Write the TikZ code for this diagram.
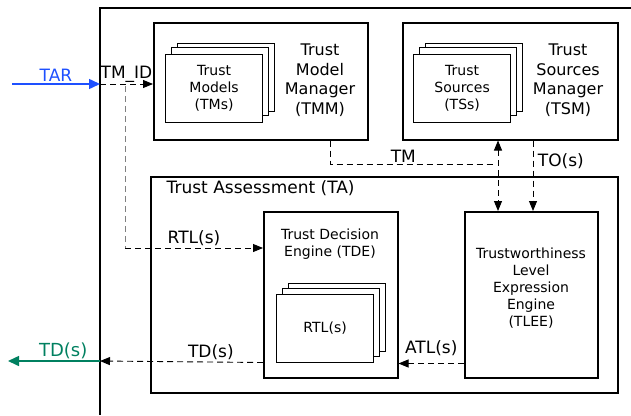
\documentclass[tikz,border=0pt]{standalone}
\usepackage{fontspec}
\setmainfont{DejaVu Sans}
\usetikzlibrary{arrows.meta,calc}
\definecolor{tarblue}{RGB}{30,80,255}
\definecolor{tdgreen}{RGB}{0,128,96}
\tikzset{
  box/.style={draw,line width=1.5pt,fill=white,anchor=north west,inner sep=0pt},
  card/.style={draw,line width=1.2pt,fill=white,anchor=north west,inner sep=0pt,
    minimum width=97pt,minimum height=68pt,align=center,font=\fontsize{14}{17}\selectfont},
  boxtext/.style={align=center,font=\fontsize{16}{19.5}\selectfont},
  lbl/.style={font=\fontsize{17}{20}\selectfont,inner sep=1.5pt},
  flow/.style={dash pattern=on 6pt off 4pt,line width=0.9pt},
  tip/.style={-{Triangle[length=10pt,width=8pt]}},
  twotip/.style={{Triangle[length=10pt,width=8pt]}-{Triangle[length=10pt,width=8pt]}},
  bigtip/.style={-{Triangle[length=11pt,width=10pt]}},
}

\begin{document}
\begin{tikzpicture}[x=1pt,y=-1pt]
\useasboundingbox (0,0) rectangle (631,415);
% system boundary
\draw[line width=2pt] (631,8) -| (100,415);
\coordinate (tarsrc) at (12,84);
\coordinate (tarin) at (100,84);
\coordinate (tdout) at (100,361);
\coordinate (tddst) at (8,361);

% trust model manager
\node[box,minimum width=214pt,minimum height=117pt] (tmm) at (153,22) {};
\foreach \d/\e in {12/11,6/7}
  \node[card] at (165+\d,54-\e) {};
\node[card] (tms) at (165,54) {Trust\\Models\\(TMs)};
\node[boxtext] (tmmname) at (320,80) {Trust\\Model\\Manager\\(TMM)};

% trust sources manager
\node[box,minimum width=215pt,minimum height=117pt] (tsm) at (402,22) {};
\foreach \d/\e in {12/11,6/7}
  \node[card] at (413+\d,54-\e) {};
\node[card] (tss) at (413,54) {Trust\\Sources\\(TSs)};
\node[boxtext] (tsmname) at (568,80) {Trust\\Sources\\Manager\\(TSM)};

% trust assessment
\node[box,minimum width=467pt,minimum height=216pt] (ta) at (150,176) {};
\node[lbl,anchor=west] (taname) at (165,188) {Trust Assessment (TA)};

\node[box,minimum width=134pt,minimum height=166pt] (tde) at (263,211) {};
\node[boxtext,font=\fontsize{14}{17}\selectfont] (tdename) at (330,244) {Trust Decision\\Engine (TDE)};
\foreach \d/\e in {12/11,6/6}
  \node[card] at (276+\d,294-\e) {};
\node[card] (rtls) at (276,294) {RTL(s)};

\node[box,minimum width=133pt,minimum height=166pt] (tlee) at (464,211) {};
\node[boxtext,font=\fontsize{14}{16.8}\selectfont] (tleename) at (531,288)
  {Trustworthiness\\Level\\Expression\\Engine\\(TLEE)};

% flows
\draw[tarblue,line width=1.5pt,bigtip] (tarsrc) -- node[above,lbl]{TAR} (tarin);
\draw[flow,tip] (tarin) -- node[above,lbl]{TM\_ID} (tarin -| tmm.west);

\coordinate (rtlturn) at ($(tarin)+(25,164)$);
\draw[flow,gray] ($(tarin)+(25,2)$) -- (rtlturn);
\draw[flow,tip] (rtlturn) -- node[above,lbl]{RTL(s)} (rtlturn -| tde.west);

\draw[flow] ($(tmm.south east)+(-38,0)$) |- node[pos=0.72,above,lbl]{TM} ($(tsm.south west)+(94,24)$);
\draw[flow,twotip] ($(tsm.south west)+(96,0)$) -- ($(tlee.north west)+(34,0)$);
\draw[flow,tip] ($(tsm.south west)+(131,0)$) -- node[pos=0.3,right=3pt,lbl]{TO(s)} ($(tlee.north west)+(69,0)$);

\coordinate (atl) at ($(tlee.south west)+(0,-15)$);
\draw[flow,tip] (atl) -- node[above=6pt,lbl]{ATL(s)} (atl -| tde.east);

\coordinate (tdsrc) at ($(tde.south west)+(0,-16)$);
\draw[flow,tip] (tdsrc) -- node[pos=0.32,above,lbl]{TD(s)} (tdout);
\draw[tdgreen,line width=1.5pt,bigtip] (tdout) -- node[pos=0.4,above,lbl,font=\fontsize{18}{20}\selectfont]{TD(s)} (tddst);
\end{tikzpicture}
\end{document}
